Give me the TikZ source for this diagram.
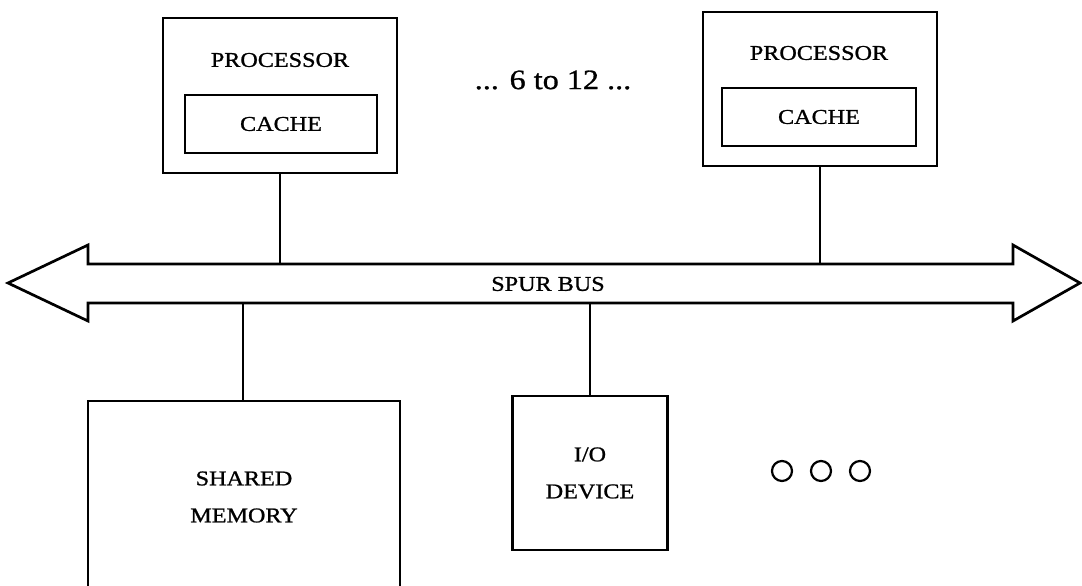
\documentclass[tikz,border=0pt]{standalone}
\usepackage{fontspec}
\setmainfont{Liberation Serif}[FakeStretch=1.15,FakeBold=1]
\begin{document}
\begin{tikzpicture}[x=1pt,y=-1pt,
  line width=2.7pt,
  box/.style={draw, line width=2.7pt, inner sep=0pt, align=center,
              font=\fontsize{21}{37}\selectfont},
  lbl/.style={inner sep=0pt, align=center, font=\fontsize{21}{37}\selectfont},
  dot/.style={circle, draw, line width=2.2pt, minimum size=20pt, inner sep=0pt}]
\useasboundingbox (0,0) rectangle (1082,586);

% processors
\node[box, minimum width=234pt, minimum height=155pt] (p1) at (280,95.5) {};
\node[lbl] (p1t) at (280,60) {PROCESSOR};
\node[box, minimum width=192pt, minimum height=58pt] (c1) at (281,124) {CACHE};

\node[box, minimum width=234pt, minimum height=154pt] (p2) at (820,89) {};
\node[lbl] (p2t) at (819,53) {PROCESSOR};
\node[box, minimum width=194pt, minimum height=58pt] (c2) at (819,117) {CACHE};

\node[inner sep=0pt, font=\fontsize{28}{32}\selectfont] (more) at (553,80) {... 6 to 12 ...};

% bus
\draw[line join=miter] (8,283) -- (88,245) -- (88,264) -- (1013,264) -- (1013,245)
  -- (1080,283) -- (1013,321) -- (1013,303) -- (88,303) -- (88,321) -- cycle;
\coordinate (bustop) at (540,264);
\coordinate (busbot) at (540,303);
\node[lbl] (bus) at (548,284) {SPUR BUS};

\draw (p1.south) -- (p1.south |- bustop);
\draw (p2.south) -- (p2.south |- bustop);

% shared memory (open at bottom)
\coordinate (memtl) at (88,401);
\coordinate (memtr) at (400,401);
\coordinate (memtop) at (243,401);
\draw (88,586) -- (memtl) -- (memtr) -- (400,586);
\node[lbl] (mem) at (244,497) {SHARED\\MEMORY};
\draw (busbot -| memtop) -- (memtop);

% I/O device
\node[box, minimum width=155pt, minimum height=154pt] (io) at (590,473) {I/O\\DEVICE};
\draw (busbot -| io.north) -- (io.north);

% ellipsis circles
\node[dot] (d1) at (782,471) {};
\node[dot] (d2) at (821,471) {};
\node[dot] (d3) at (860,471) {};
\end{tikzpicture}
\end{document}
